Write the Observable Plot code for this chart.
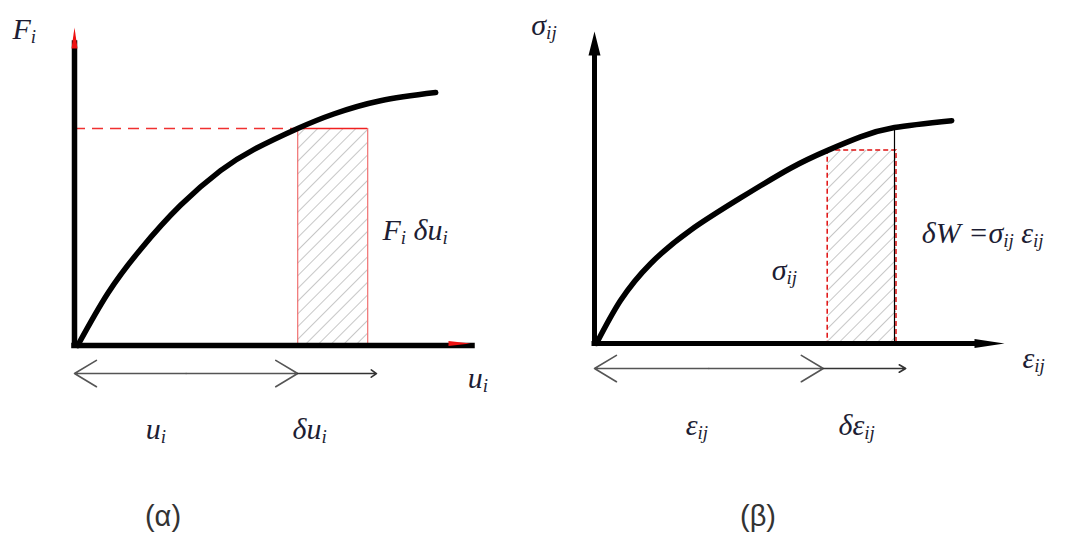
<!DOCTYPE html>
<html>
<head>
<meta charset="utf-8">
<script src="https://cdn.jsdelivr.net/npm/d3@7"></script>
<script src="https://cdn.jsdelivr.net/npm/@observablehq/plot@0.6"></script>
<style>
  body { margin: 0; background: #fff; }
  #fig { position: relative; width: 1071px; height: 545px; background: #fff; }
  #fig svg { position: absolute; top: 0; overflow: visible; background: transparent; }
  .cap { position: absolute; top: 500px; font-family: "Liberation Sans", sans-serif; font-size: 29px; color: #333; transform: translateX(-50%); }
</style>
</head>
<body>
<div id="fig"></div>
<script>
// (α) force–displacement curve F_i(u_i)
const forceU = [0.08, 0.83, 1.65, 2.65, 3.65, 4.48, 5.58, 6.48, 7.65, 9.03];
const forceF = [0, 1.65, 3.05, 4.45, 5.55, 6.22, 6.89, 7.35, 7.77, 8.03];
const ui = 5.58, dui = 1.75, Fi = 6.89;

// (β) stress–strain curve σ_ij(ε_ij)
const strainE = [0.05, 0.65, 1.4, 2.4, 3.65, 4.9, 5.83, 6.65, 7.5, 8.93];
const stressS = [0, 1.37, 2.55, 3.62, 4.65, 5.6, 6.17, 6.6, 6.9, 7.12];
const eij = 5.83, deij = 1.72, sij = 6.17, sijEnd = 6.9;

// label texts; braces mark subscripts
const alphaTexts = ["F{i}", "F{i} δu{i}", "u{i}", "u{i}", "δu{i}"];
const betaTexts = ["σ{ij}", "δW =σ{ij} ε{ij}", "σ{ij}", "ε{ij}", "ε{ij}", "δε{ij}"];
const captions = ["(α)", "(β)"];

const ink = "#1d1d33";
const textStyle = {fontFamily: "Liberation Serif, serif", fontStyle: "italic", fontSize: 30, fill: ink, textAnchor: "start"};

function hatchDefs(svg, id) {
  const ns = "http://www.w3.org/2000/svg";
  const defs = document.createElementNS(ns, "defs");
  const pat = document.createElementNS(ns, "pattern");
  pat.setAttribute("id", id);
  pat.setAttribute("patternUnits", "userSpaceOnUse");
  pat.setAttribute("width", "9");
  pat.setAttribute("height", "9");
  pat.setAttribute("patternTransform", "rotate(45)");
  const ln = document.createElementNS(ns, "line");
  ln.setAttribute("x1", "0"); ln.setAttribute("y1", "0");
  ln.setAttribute("x2", "0"); ln.setAttribute("y2", "9");
  ln.setAttribute("stroke", "#a8a8a8");
  ln.setAttribute("stroke-width", "1.3");
  pat.appendChild(ln);
  defs.appendChild(pat);
  svg.insertBefore(defs, svg.firstChild);
}

// turn "a{b}" into tspans with b as a subscript
function subscripts(svg) {
  const ns = "http://www.w3.org/2000/svg";
  svg.querySelectorAll("text").forEach(t => {
    const s = t.textContent;
    if (!s.includes("{")) return;
    t.textContent = "";
    let low = false;
    for (const p of s.split(/(\{[^}]*\})/).filter(d => d)) {
      const ts = document.createElementNS(ns, "tspan");
      if (p.startsWith("{")) {
        ts.textContent = p.slice(1, -1);
        ts.setAttribute("font-size", "19");
        if (!low) { ts.setAttribute("dy", "4"); low = true; }
      } else {
        ts.textContent = p;
        if (low) { ts.setAttribute("dy", "-4"); low = false; }
      }
      t.appendChild(ts);
    }
  });
}

function finish(svg, id, left) {
  hatchDefs(svg, id);
  subscripts(svg);
  svg.style.left = left + "px";
  return svg;
}

// ---- panel (α)
const forceCurve = forceU.map((u, i) => ({u, f: forceF[i]}));
const alphaPos = [[-1.55, 10.03], [7.7, 3.65], [9.83, -1.05], [1.78, -2.67], [5.45, -2.67]];
const alphaLabels = alphaTexts.map((t, i) => ({t, x: alphaPos[i][0], y: alphaPos[i][1]}));
const alphaDim = -0.89;

const alpha = Plot.plot({
  width: 519, height: 470,
  x: {domain: [0, 10], range: [74, 474], axis: null},
  y: {domain: [0, 10], range: [345, 30], axis: null},
  marks: [
    Plot.rect([{x1: ui, x2: ui + dui, y1: 0, y2: Fi}], {x1: "x1", x2: "x2", y1: "y1", y2: "y2", fill: "url(#hatchA)"}),
    Plot.ruleX([ui, ui + dui], {y1: 0, y2: Fi, stroke: "#f07070", strokeWidth: 1.2}),
    Plot.ruleY([Fi], {x1: 0, x2: ui, stroke: "#f03030", strokeWidth: 1.6, strokeDasharray: "11,7"}),
    Plot.ruleY([Fi], {x1: ui, x2: ui + dui, stroke: "#f02020", strokeWidth: 1.6}),
    Plot.ruleY([0], {x1: 0, x2: 9.95, stroke: "#000", strokeWidth: 5.5, strokeLinecap: "square"}),
    Plot.ruleX([0], {y1: 0, y2: 9.59, stroke: "#000", strokeWidth: 5.5, strokeLinecap: "square"}),
    Plot.vector([{x: 0, y: 9.43}], {x: "x", y: "y", rotate: 0, length: 21, r: 3, shape: "spike", anchor: "start", fill: "#ee1111", stroke: "none"}),
    Plot.vector([{x: 9.35, y: 0}], {x: "x", y: "y", rotate: 90, length: 22, r: 2.5, shape: "spike", anchor: "start", fill: "#ee1111", stroke: "none", dy: -2}),
    Plot.line(forceCurve, {x: "u", y: "f", curve: "natural", stroke: "#000", strokeWidth: 5.5, strokeLinecap: "round"}),
    Plot.arrow([{a: ui / 2, b: 0}, {a: ui / 2, b: ui}], {x1: "a", x2: "b", y1: alphaDim, y2: alphaDim, stroke: "#555", strokeWidth: 1.6, headLength: 24, headAngle: 62}),
    Plot.arrow([{a: ui, b: 7.55}], {x1: "a", x2: "b", y1: alphaDim, y2: alphaDim, stroke: "#333", strokeWidth: 1.6, headLength: 6, headAngle: 70}),
    Plot.text(alphaLabels, {x: "x", y: "y", text: "t", ...textStyle})
  ]
});
document.getElementById("fig").appendChild(finish(alpha, "hatchA", 0));

// ---- panel (β)
const stressCurve = strainE.map((e, i) => ({e, s: stressS[i]}));
const betaPos = [[-1.58, 10.16], [8.18, 3.51], [4.43, 2.33], [10.7, -0.48], [2.28, -2.62], [6.1, -2.62]];
const betaLabels = betaTexts.map((t, i) => ({t, x: betaPos[i][0], y: betaPos[i][1]}));
const betaDim = -0.8;

const beta = Plot.plot({
  width: 552, height: 470,
  x: {domain: [0, 10], range: [75, 475], axis: null},
  y: {domain: [0, 10], range: [343, 30], axis: null},
  marks: [
    Plot.rect([{x1: eij, x2: eij + deij, y1: 0, y2: sij}], {x1: "x1", x2: "x2", y1: "y1", y2: "y2", fill: "url(#hatchB)", stroke: "#e01010", strokeWidth: 1.5, strokeDasharray: "5,3"}),
    Plot.ruleX([7.5], {y1: 0, y2: sijEnd, stroke: "#000", strokeWidth: 1.2}),
    Plot.ruleY([0], {x1: 0, x2: 9.6, stroke: "#000", strokeWidth: 5, strokeLinecap: "square"}),
    Plot.ruleX([0], {y1: 0, y2: 9.27, stroke: "#000", strokeWidth: 5, strokeLinecap: "square"}),
    Plot.vector([{x: 0, y: 9.2}], {x: "x", y: "y", rotate: 0, length: 24, r: 6, shape: "spike", anchor: "start", fill: "#000", stroke: "none"}),
    Plot.vector([{x: 9.5, y: 0}], {x: "x", y: "y", rotate: 90, length: 30, r: 4.5, shape: "spike", anchor: "start", fill: "#000", stroke: "none"}),
    Plot.line(stressCurve, {x: "e", y: "s", curve: "natural", stroke: "#000", strokeWidth: 5.5, strokeLinecap: "round"}),
    Plot.arrow([{a: 2.86, b: 0}, {a: 2.86, b: 5.72}], {x1: "a", x2: "b", y1: betaDim, y2: betaDim, stroke: "#555", strokeWidth: 1.6, headLength: 24, headAngle: 62}),
    Plot.arrow([{a: 5.72, b: 7.78}], {x1: "a", x2: "b", y1: betaDim, y2: betaDim, stroke: "#333", strokeWidth: 1.6, headLength: 7, headAngle: 60}),
    Plot.text(betaLabels, {x: "x", y: "y", text: "t", ...textStyle})
  ]
});
document.getElementById("fig").appendChild(finish(beta, "hatchB", 519));

// panel captions
const capX = [163, 758];
captions.forEach((c, i) => {
  const d = document.createElement("div");
  d.className = "cap";
  d.style.left = capX[i] + "px";
  d.textContent = c;
  document.getElementById("fig").appendChild(d);
});
</script>
</body>
</html>
